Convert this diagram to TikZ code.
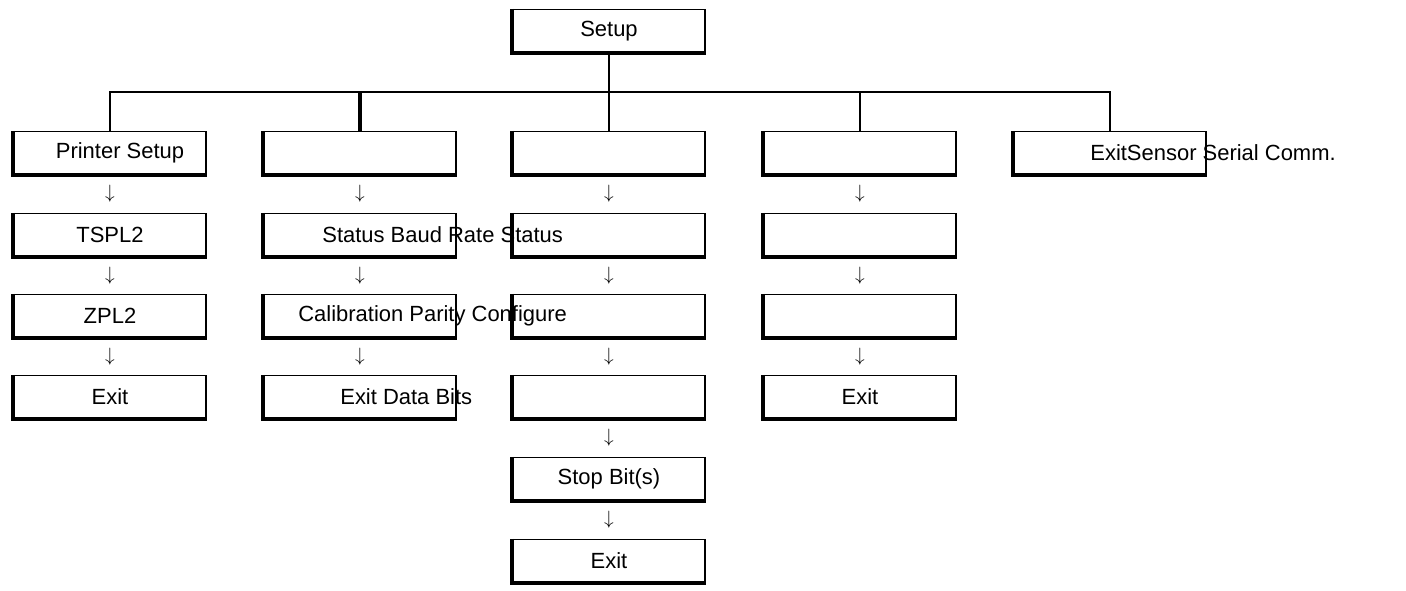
\documentclass[tikz,border=0pt]{standalone}
\usepackage{fontspec}
\setmainfont{Liberation Sans}
\usetikzlibrary{positioning,calc}
\tikzset{font=\fontsize{12.5pt}{14pt}\selectfont}
\tikzstyle{box}=[rectangle,draw=black,line width=0.8pt,minimum width=3.84cm,minimum height=0.86cm,inner sep=0pt]
\tikzstyle{none}=[inner sep=0pt]
\tikzstyle{link}=[-,line width=0.9pt]
\tikzstyle{down}=[inner sep=0pt,font=\fontsize{11pt}{12pt}\selectfont]
\newcommand{\edge}[1]{\draw [line width=2.2pt] (#1.north west) to (#1.south west) to (#1.south east);}
\begin{document}
\begin{tikzpicture}
	\useasboundingbox (0,0) rectangle (28.12,-11.8);
	% top
	\node [style=box] (S) at (12.18,-0.62) {Setup};
	% first row
	\node [style=box] (A1) at (2.2,-3.06) {\hspace{0.4cm}Printer Setup};
	\node [style=box] (B1) at (7.2,-3.06) {};
	\node [style=box] (C1) at (12.18,-3.06) {};
	\node [style=box] (D1) at (17.2,-3.06) {};
	\node [style=box] (E1) at (22.2,-3.06) {};
	% column a
	\node [style=box] (A2) at (2.2,-4.7) {TSPL2};
	\node [style=box] (A3) at (2.2,-6.32) {ZPL2};
	\node [style=box] (A4) at (2.2,-7.94) {Exit};
	% column b
	\node [style=box] (B2) at (7.2,-4.7) {};
	\node [style=box] (B3) at (7.2,-6.32) {};
	\node [style=box] (B4) at (7.2,-7.94) {};
	% column c
	\node [style=box] (C2) at (12.18,-4.7) {};
	\node [style=box] (C3) at (12.18,-6.32) {};
	\node [style=box] (C4) at (12.18,-7.94) {};
	\node [style=box] (C5) at (12.18,-9.58) {Stop Bit(s)};
	\node [style=box] (C6) at (12.18,-11.22) {Exit};
	% column d
	\node [style=box] (D2) at (17.2,-4.7) {};
	\node [style=box] (D3) at (17.2,-6.32) {};
	\node [style=box] (D4) at (17.2,-7.94) {Exit};
	\foreach \n in {S,A1,B1,C1,D1,E1,A2,A3,A4,B2,B3,B4,C2,C3,C4,C5,C6,D2,D3,D4} {\edge{\n}}
	% labels running over the boxes
	\node [style=none, anchor=west] (lb2) at (6.44,-4.7) {Status Baud Rate Status};
	\node [style=none, anchor=west] (lb3) at (5.96,-6.32) {Calibration Parity Configure};
	\node [style=none, anchor=west] (lb4) at (6.8,-7.94) {Exit Data Bits};
	\node [style=none, anchor=west] (le1) at (21.8,-3.06) {ExitSensor Serial Comm.};
	% tree
	\coordinate (bus) at (12.18,-1.84);
	\draw [style=link] (S) to (bus);
	\foreach \n in {A1,B1,C1,D1,E1} {\draw [style=link] (\n.north) |- (bus);}
	\draw [line width=2pt] (B1.north) to (B1.north |- bus);
	% arrows
	\foreach \a/\b in {A1/A2,A2/A3,A3/A4,B1/B2,B2/B3,B3/B4,C1/C2,C2/C3,C3/C4,C4/C5,C5/C6,D1/D2,D2/D3,D3/D4}
		{\node [style=down] at ($(\a.south)!0.5!(\b.north)$) {$\downarrow$};}
\end{tikzpicture}
\end{document}
